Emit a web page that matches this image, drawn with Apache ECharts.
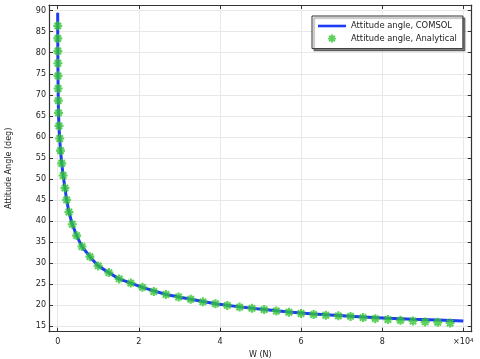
<!DOCTYPE html>
<html><head><meta charset="utf-8">
<script src="https://cdn.jsdelivr.net/npm/echarts@6/dist/echarts.min.js"></script>
<style>html,body{margin:0;padding:0;background:#fff}#c{width:480px;height:359px}</style>
</head><body><div id="c"></div>
<script>
const xTicks = [0, 20000, 40000, 60000, 80000, 100000];
const yTicks = [15, 20, 25, 30, 35, 40, 45, 50, 55, 60, 65, 70, 75, 80, 85, 90];
const seriesNames = ['Attitude angle, COMSOL', 'Attitude angle, Analytical'];

const analyticalW = [10, 20, 40, 60, 80, 110, 150, 200, 320, 500, 700, 1000, 1350, 1800, 2200, 2780, 3600, 4670, 5980, 7950,
  9990, 12620, 15150, 18030, 20900, 23700, 26700, 29800, 32800, 35800, 38900, 41800, 44850, 47900, 50900, 53900, 57000, 60000,
  63100, 66100, 69200, 72200, 75300, 78300, 81400, 84500, 87600, 90600, 93700, 96750];
const analyticalAngle = [86.4, 83.4, 80.4, 77.5, 74.5, 71.5, 68.6, 65.7, 62.6, 59.6, 56.7, 53.7, 50.8, 47.8, 45.0, 42.1, 39.2, 36.5, 33.9, 31.5,
  29.3, 27.7, 26.2, 25.2, 24.2, 23.2, 22.5, 21.9, 21.35, 20.75, 20.3, 19.9, 19.5, 19.2, 18.9, 18.57, 18.26, 17.97,
  17.72, 17.55, 17.42, 17.28, 17.0, 16.75, 16.55, 16.35, 16.19, 15.98, 15.88, 15.71];

const comsolW = [0, 10, 20, 40, 60, 80, 110, 150, 200, 320, 500, 700, 1000, 1350, 1800, 2200, 2780, 3600, 4670, 5980, 7950,
  9990, 12620, 15150, 18030, 20900, 26700, 32800, 38900, 44850, 50900, 57000, 63100, 69200, 75300, 81400, 87600, 93700, 100000];
const comsolAngle = [89.5, 86.4, 83.4, 80.4, 77.5, 74.5, 71.5, 68.6, 65.7, 62.6, 59.6, 56.7, 53.7, 50.8, 47.8, 45.0, 42.1, 39.2, 36.5, 33.9, 31.5,
  29.3, 27.7, 26.2, 25.2, 24.2, 22.5, 21.35, 20.3, 19.55, 18.95, 18.35, 17.85, 17.5, 17.15, 16.85, 16.6, 16.4, 16.2];

const STAR = 'path://M-1.2,-5L1.2,-5L1.2,5L-1.2,5Z M5,-1.2L5,1.2L-5,1.2L-5,-1.2Z M2.687,-4.385L4.385,-2.687L-2.687,4.385L-4.385,2.687Z M4.385,2.687L2.687,4.385L-4.385,-2.687L-2.687,-4.385Z';
const LINE_ICON = 'path://M0,0L28,0L28,2.6L0,2.6Z';
const FONT = 'DejaVu Sans';
const frame = '#333';

const chart = echarts.init(document.getElementById('c'), null, {renderer: 'canvas'});
const tickCommon = {show: true, inside: true, length: 4, lineStyle: {color: frame, width: 1}};
const xRange = {min: -2140, max: 102070};
const yRange = {min: 13.644, max: 91.356};

chart.setOption({
  animation: false,
  backgroundColor: '#fff',
  grid: {left: 49, right: 8.3, top: 5, bottom: 27.3, outerBoundsMode: 'none', containLabel: false},
  legend: {
    data: [{name: seriesNames[0], icon: LINE_ICON}, {name: seriesNames[1], icon: STAR}],
    orient: 'vertical', left: 312, top: 16,
    padding: [6, 6, 6, 6], itemWidth: 28, itemHeight: 8, itemGap: 4.6,
    borderColor: '#333', borderWidth: 1, backgroundColor: '#fff',
    shadowColor: 'rgba(0,0,0,0.45)', shadowBlur: 1, shadowOffsetX: 2, shadowOffsetY: 2,
    textStyle: {fontFamily: FONT, fontSize: 8.4, color: '#222'}
  },
  xAxis: [{
    type: 'value', position: 'bottom', ...xRange,
    name: 'W (N)', nameLocation: 'middle', nameGap: 15,
    nameTextStyle: {fontFamily: FONT, fontSize: 8, color: '#222'},
    axisLine: {show: true, onZero: false, lineStyle: {color: frame, width: 1.2}},
    axisTick: {...tickCommon, customValues: xTicks},
    axisLabel: {
      customValues: xTicks, margin: 6, fontFamily: FONT, fontSize: 8, color: '#222',
      formatter: v => v === 100000 ? '{a|×10}{s|4}' : String(v / 10000),
      rich: {a: {fontFamily: FONT, fontSize: 8, color: '#222'}, s: {fontFamily: FONT, fontSize: 5.5, color: '#222', verticalAlign: 'top'}}
    },
    splitLine: {show: true, lineStyle: {color: '#e8e8e8', width: 1}}
  }, {
    type: 'value', position: 'top', ...xRange,
    axisLine: {show: true, onZero: false, lineStyle: {color: frame, width: 1.2}},
    axisTick: {...tickCommon, customValues: xTicks},
    axisLabel: {show: false}, splitLine: {show: false}
  }],
  yAxis: [{
    type: 'value', position: 'left', ...yRange,
    name: 'Attitude Angle (deg)', nameLocation: 'middle', nameGap: 36,
    nameTextStyle: {fontFamily: FONT, fontSize: 8, color: '#222'},
    axisLine: {show: true, onZero: false, lineStyle: {color: frame, width: 1.2}},
    axisTick: {...tickCommon, customValues: yTicks},
    axisLabel: {customValues: yTicks, margin: 3, fontFamily: FONT, fontSize: 8, color: '#222'},
    splitLine: {show: true, lineStyle: {color: '#e8e8e8', width: 1}}
  }, {
    type: 'value', position: 'right', ...yRange,
    axisLine: {show: true, onZero: false, lineStyle: {color: frame, width: 1.2}},
    axisTick: {...tickCommon, customValues: yTicks},
    axisLabel: {show: false}, splitLine: {show: false}
  }],
  series: [{
    name: seriesNames[0], type: 'line', xAxisIndex: 0, yAxisIndex: 0,
    data: comsolW.map((w, i) => [w, comsolAngle[i]]),
    showSymbol: false, symbol: 'none',
    lineStyle: {color: '#1f3cf5', width: 3},
    itemStyle: {color: '#1f3cf5'}, z: 2
  }, {
    name: seriesNames[1], type: 'scatter', xAxisIndex: 0, yAxisIndex: 0,
    data: analyticalW.map((w, i) => [w, analyticalAngle[i]]),
    symbol: STAR, symbolSize: 9, symbolKeepAspect: true,
    itemStyle: {color: '#33c633'}, z: 3
  }]
});
</script>
</body></html>
